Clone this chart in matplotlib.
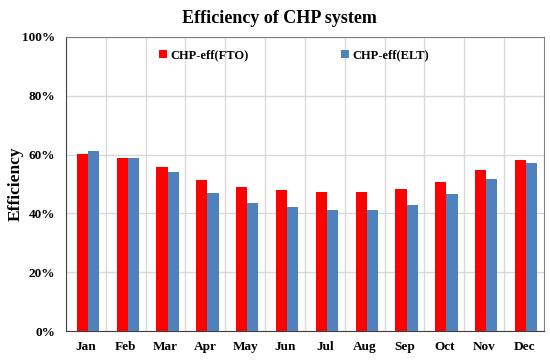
import matplotlib.pyplot as plt
import numpy as np

months = ["Jan", "Feb", "Mar", "Apr", "May", "Jun", "Jul", "Aug", "Sep", "Oct", "Nov", "Dec"]
eff_fto = [60.1, 59.0, 55.9, 51.4, 48.9, 47.8, 47.2, 47.1, 48.4, 50.7, 54.6, 58.2]
eff_elt = [61.3, 58.7, 54.1, 46.8, 43.4, 42.1, 41.0, 41.0, 42.9, 46.5, 51.6, 57.0]

plt.rcParams['font.family'] = ['Liberation Serif', 'DejaVu Serif']
plt.rcParams['font.weight'] = 'bold'

fig = plt.figure(figsize=(5.5, 3.62), dpi=100)
ax = fig.add_axes([0.12, 0.0856, 0.869, 0.8124])

x = np.arange(len(months))
w = 0.28
ax.bar(x - w / 2 + 0.05, eff_fto, w, color="#FF0000", label="CHP-eff(FTO)", zorder=3)
ax.bar(x + w / 2 + 0.05, eff_elt, w, color="#4F81BD", label="CHP-eff(ELT)", zorder=3)

ax.set_xlim(-0.5, len(months) - 0.5)
ax.set_ylim(0, 100)
ax.set_yticks(np.arange(0, 101, 20))
ax.set_yticklabels([f"{v}%" for v in range(0, 101, 20)], fontsize=9.5, fontweight='bold')
ax.set_xticks(x)
ax.set_xticklabels(months, fontsize=9.5, fontweight='bold')
ax.set_xticks(np.arange(0.5, len(months) - 0.5, 1), minor=True)
ax.tick_params(axis='both', which='both', length=0)
ax.tick_params(axis='x', pad=7)
ax.tick_params(axis='y', pad=8)
ax.grid(axis='y', color="#D9D9D9", lw=1, zorder=0)
ax.grid(axis='x', which='minor', color="#D9D9D9", lw=1, zorder=0)
for s in ax.spines.values():
    s.set_color("#808080")
ax.spines['left'].set_color("#404040")
ax.spines['bottom'].set_color("#404040")

ax.set_ylabel("Efficiency", fontsize=12.5, fontweight='bold')
ax.yaxis.set_label_coords(-0.088, 0.5)
fig.suptitle("Efficiency of CHP system", x=0.508, y=0.949, va='center',
             fontsize=13, fontweight='bold')
ax.legend(loc='upper center', bbox_to_anchor=(0.477, 0.995), ncol=2, frameon=False,
          fontsize=9, handlelength=0.6, handleheight=0.6, handletextpad=0.3,
          columnspacing=7.4)

fig.savefig("out.png", dpi=100)
